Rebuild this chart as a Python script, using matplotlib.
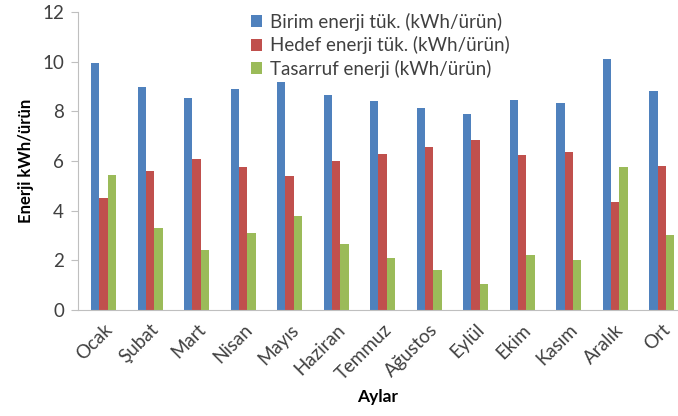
import matplotlib
matplotlib.use("Agg")
import matplotlib.pyplot as plt
import numpy as np

plt.rcParams['font.family'] = ['Lato', 'DejaVu Sans']

months = ["Ocak", "Şubat", "Mart", "Nisan", "Mayıs", "Haziran", "Temmuz",
          "Ağustos", "Eylül", "Ekim", "Kasım", "Aralık", "Ort"]
birim = [9.95, 9.0, 8.55, 8.9, 9.2, 8.65, 8.4, 8.15, 7.9, 8.45, 8.35, 10.1, 8.8]
hedef = [4.5, 5.6, 6.1, 5.75, 5.4, 6.0, 6.3, 6.55, 6.85, 6.25, 6.35, 4.35, 5.8]
tasarruf = [5.45, 3.3, 2.4, 3.1, 3.8, 2.65, 2.1, 1.6, 1.05, 2.2, 2.0, 5.75, 3.0]
series_names = ["Birim enerji tük. (kWh/ürün)", "Hedef enerji tük. (kWh/ürün)",
                "Tasarruf enerji (kWh/ürün)"]
colors = ["#4F81BD", "#C0504D", "#9BBB59"]

fig = plt.figure(figsize=(6.78, 4.16), dpi=100)
ax = fig.add_axes([0.115, 0.255, 0.885, 0.716])

x = np.arange(len(months))
w = 0.18
for k, (vals, name, c) in enumerate(zip([birim, hedef, tasarruf], series_names, colors)):
    ax.bar(x + (k - 1) * w, vals, width=w, color=c, label=name)

ax.set_xlim(-0.55, 12.35)
ax.set_ylim(0, 12)
ax.set_yticks([0, 2, 4, 6, 8, 10, 12])
ax.set_xticks(x)
ax.set_xticklabels(months, rotation=45, ha='right', rotation_mode='anchor')
ax.tick_params(axis='x', length=0, pad=8, labelsize=13.5, labelcolor='#404040')
ax.tick_params(axis='y', length=5, direction='out', color='#BFBFBF', labelsize=13.5,
               labelcolor='#404040', pad=5)
for s in ['top', 'right']:
    ax.spines[s].set_visible(False)
ax.spines['left'].set_color('#BFBFBF')
ax.spines['bottom'].set_color('#BFBFBF')

ax.set_ylabel("Enerji kWh/ürün", fontsize=12, fontweight='bold', labelpad=6)
ax.set_xlabel("Aylar", fontsize=12.5, fontweight='bold', labelpad=4)

ax.legend(loc='upper left', bbox_to_anchor=(0.26, 1.055), frameon=False, fontsize=13.5,
          handlelength=0.6, handleheight=0.6, handletextpad=0.4, labelspacing=0.3,
          labelcolor='#404040')

fig.savefig("out.png", dpi=100)
